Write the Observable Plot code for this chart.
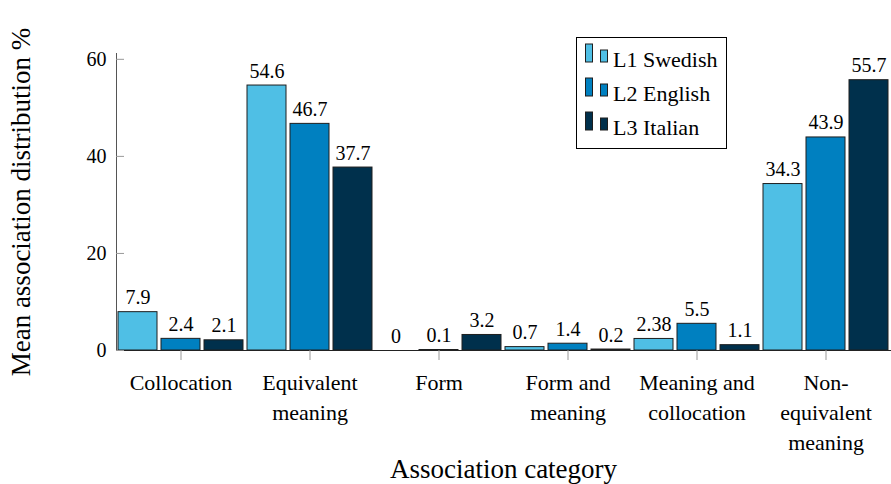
<!DOCTYPE html>
<html><head><meta charset="utf-8">
<script src="https://cdn.jsdelivr.net/npm/d3@7"></script>
<script src="https://cdn.jsdelivr.net/npm/@observablehq/plot@0.6"></script>
<style>
html,body{margin:0;padding:0;background:#fff;}
svg text{font-family:"Liberation Serif","Times New Roman",serif !important;}
</style>
</head><body><div id="chart"></div>
<script>
const categories = ["Collocation", "Equivalent meaning", "Form", "Form and meaning", "Meaning and collocation", "Non-equivalent meaning"];
const tickLabels = ["Collocation", "Equivalent\nmeaning", "Form", "Form and\nmeaning", "Meaning and\ncollocation", "Non-\nequivalent\nmeaning"];
const series = ["L1 Swedish", "L2 English", "L3 Italian"];
const colors = ["#4FBFE5", "#0080C0", "#00304C"];
const swedish = [7.9, 54.6, 0, 0.7, 2.38, 34.3];
const english = [2.4, 46.7, 0.1, 1.4, 5.5, 43.9];
const italian = [2.1, 37.7, 3.2, 0.2, 1.1, 55.7];
const yTicks = [0, 20, 40, 60];
const yLabel = "Mean association distribution %";
const xLabel = "Association category";
const serif = "'Liberation Serif', 'Times New Roman', serif";

const data = [];
categories.forEach((c, i) => {
  [swedish, english, italian].forEach((arr, j) => data.push({category: c, series: series[j], value: arr[i]}));
});

const chart = Plot.plot({
  width: 891, height: 484,
  marginLeft: 114, marginRight: 0, marginTop: 53, marginBottom: 134,
  style: {fontFamily: serif, background: "white", color: "black"},
  fx: {domain: categories, padding: 0},
  x: {domain: series, paddingInner: 0.1, paddingOuter: 0.05, axis: null},
  y: {domain: [0, 61.2]},
  color: {domain: series, range: colors},
  marks: [
    Plot.barY(data, {fx: "category", x: "series", y: "value", fill: "series", stroke: "#1e1e1e", strokeWidth: 1}),
    Plot.text(data, {fx: "category", x: "series", y: "value", text: d => String(d.value), lineAnchor: "bottom", dy: -8, fontSize: 20, fontFamily: serif, fill: "black"}),
    Plot.frame({anchor: "left", facet: "super", stroke: "#555"}),
    Plot.frame({anchor: "bottom", facet: "super", stroke: "#222"}),
    Plot.axisY({ticks: yTicks, tickSize: -8, tickPadding: 18, stroke: "#999", fontSize: 20, fontFamily: serif, label: null}),
    Plot.axisY({ticks: [], label: yLabel, labelAnchor: "center", labelOffset: 106, labelArrow: "none", fontSize: 27, fontFamily: serif}),
    Plot.axisFx({anchor: "bottom", tickSize: 10, tickPadding: 8, stroke: "#999", fontSize: 22, fontFamily: serif, lineHeight: 1.36,
      tickFormat: c => tickLabels[categories.indexOf(c)], label: null}),
    Plot.axisFx({anchor: "bottom", ticks: [], label: xLabel, labelAnchor: "center", labelOffset: 127, labelArrow: "none", fontSize: 27, fontFamily: serif})
  ]
});
document.getElementById("chart").appendChild(chart);

// legend
const svg = d3.select(chart);
const lg = svg.append("g").attr("font-family", serif).attr("text-anchor", "start");
lg.append("rect").attr("x", 576.5).attr("y", 37.5).attr("width", 150).attr("height", 111)
  .attr("fill", "white").attr("stroke", "black");
series.forEach((s, i) => {
  const yb = 62 + 34 * i;
  lg.append("rect").attr("x", 585.5).attr("y", yb - 18).attr("width", 7).attr("height", 18)
    .attr("fill", colors[i]).attr("stroke", "#1e1e1e");
  lg.append("rect").attr("x", 600.5).attr("y", yb - 12).attr("width", 7).attr("height", 12)
    .attr("fill", colors[i]).attr("stroke", "#1e1e1e");
  lg.append("text").attr("x", 613).attr("y", yb + 5).attr("font-size", 22).attr("fill", "black")
    .attr("text-anchor", "start").text(s);
});
</script>
</body></html>
